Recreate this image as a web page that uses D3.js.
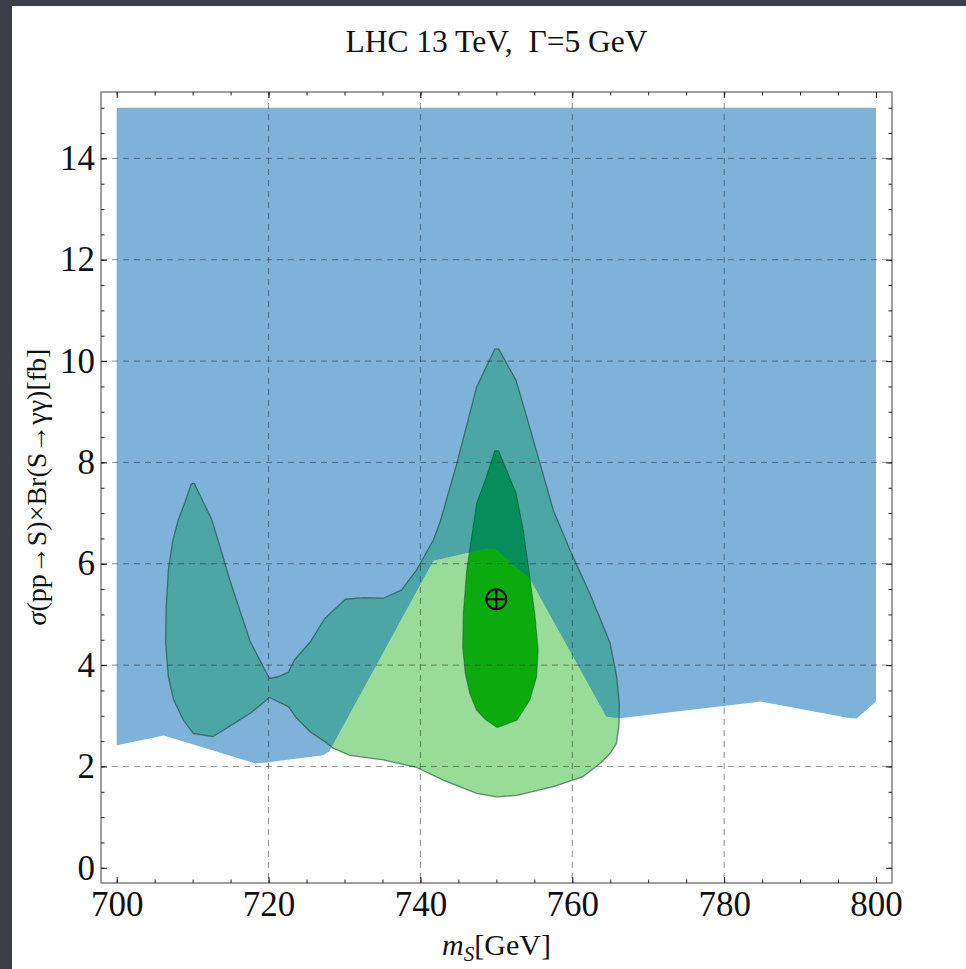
<!DOCTYPE html>
<html>
<head>
<meta charset="utf-8">
<script src="https://cdn.jsdelivr.net/npm/d3@7"></script>
<style>
  html, body { margin: 0; padding: 0; background: #3c3f48; }
  svg { display: block; }
  text { font-family: "Liberation Serif", "Times New Roman", serif; fill: #111; }
</style>
</head>
<body>
<svg id="chart" width="966" height="969"></svg>
<script>
// ---- data -------------------------------------------------------------
const titleText = "LHC 13 TeV,  \u0393=5 GeV";
const xMajorTicks = [700, 720, 740, 760, 780, 800];
const yMajorTicks = [0, 2, 4, 6, 8, 10, 12, 14];
const xGridLines = [720, 740, 760, 780];
const yGridLines = [2, 4, 6, 8, 10, 12, 14];
const bestFitPoint = [750.0, 5.3];

// excluded region (m_S, sigma x Br)
const excludedRegion = [
  [700, 15], [800, 15], [800, 3.28], [797.5, 2.95], [796.6, 2.95], [784.9, 3.28],
  [766.3, 2.95], [764.5, 2.98], [754.4, 5.71], [749.8, 6.30], [748.7, 6.30],
  [741.7, 6.06], [728.0, 2.30], [727.2, 2.22], [719.7, 2.08], [718.3, 2.06],
  [706.2, 2.61], [700, 2.42]
];

// outer (95%) contour of the fit
const outerContour = [
  [710.2, 7.59], [712.5, 6.88], [713.6, 6.34], [714.9, 5.68], [716.2, 5.09],
  [717.6, 4.46], [719.1, 4.03], [719.75, 3.84], [720.1, 3.74], [721.3, 3.77],
  [722.6, 3.86], [723.4, 4.10], [725.5, 4.46], [727.4, 4.92], [730.1, 5.30],
  [732.5, 5.33], [735.1, 5.32], [737.5, 5.48], [739.5, 5.88], [741.7, 6.47],
  [742.6, 6.83], [744.8, 7.98], [747.4, 9.49], [749.8, 10.24], [750.3, 10.24],
  [752.6, 9.62], [754.0, 8.90], [755.75, 7.98], [757.5, 7.06], [759.7, 6.27],
  [762.3, 5.42], [765.0, 4.43], [765.85, 3.77], [766.2, 3.24], [766.15, 2.80],
  [765.8, 2.45], [765.0, 2.26], [763.65, 2.06], [761.45, 1.80], [757.5, 1.60],
  [752.7, 1.43], [750.0, 1.40], [747.4, 1.47], [743.0, 1.73], [739.5, 1.98],
  [735.1, 2.13], [730.7, 2.22], [728.5, 2.36], [727.7, 2.46], [725.5, 2.68],
  [723.7, 2.95], [722.6, 3.18], [720.1, 3.36], [719.5, 3.28], [717.6, 3.05],
  [715.8, 2.88], [712.7, 2.59], [710.1, 2.65], [708.8, 2.91], [707.5, 3.31],
  [706.8, 3.77], [706.45, 4.43], [706.5, 5.09], [706.8, 5.88], [707.4, 6.47],
  [708.1, 6.86], [709.0, 7.22], [709.8, 7.57]
];

// inner (68%) contour of the fit
const innerContour = [
  [749.8, 8.23], [750.3, 8.23], [752.6, 7.39], [753.55, 6.66], [754.4, 5.74],
  [755.06, 5.02], [755.5, 4.30], [755.3, 3.77], [754.4, 3.31], [752.7, 2.91],
  [750.1, 2.77], [748.6, 2.92], [747.4, 3.11], [746.5, 3.44], [745.9, 3.84],
  [745.57, 4.36], [745.65, 5.02], [746.1, 5.88], [746.75, 6.53], [747.4, 7.19],
  [748.7, 7.72]
];

// ---- layout -----------------------------------------------------------
const frame = { left: 101, right: 892, top: 92, bottom: 883 };
const x = d3.scaleLinear().domain([697.93, 802.11]).range([frame.left, frame.right]);
const y = d3.scaleLinear().domain([-0.30, 15.31]).range([frame.bottom, frame.top]);

const svg = d3.select("#chart");
svg.append("rect").attr("x", 0).attr("y", 0).attr("width", 966).attr("height", 969).attr("fill", "#3c3f48");
svg.append("rect").attr("x", 12).attr("y", 6).attr("width", 954).attr("height", 963).attr("fill", "#ffffff");

const area = d3.line().x(d => x(d[0])).y(d => y(d[1]));
const closed = pts => area(pts) + "Z";

const defs = svg.append("defs");
defs.append("clipPath").attr("id", "excl-clip")
  .append("path").attr("d", closed(excludedRegion));

const plot = svg.append("g");

// excluded region
plot.append("path").attr("d", closed(excludedRegion)).attr("fill", "#7fb2d8");

// outer contour: light green where allowed, teal inside the excluded region
plot.append("path").attr("d", closed(outerContour)).attr("fill", "#98dc98");
plot.append("path").attr("d", closed(outerContour)).attr("fill", "#4ba6a5")
  .attr("clip-path", "url(#excl-clip)");

// inner contour
plot.append("path").attr("d", closed(innerContour)).attr("fill", "#0cab0d");
plot.append("path").attr("d", closed(innerContour)).attr("fill", "#078d5b")
  .attr("clip-path", "url(#excl-clip)");

// contour outlines
plot.append("path").attr("d", closed(outerContour)).attr("fill", "none")
  .attr("stroke", "rgba(25,65,60,0.6)").attr("stroke-width", 1.3).attr("stroke-linejoin", "round");
plot.append("path").attr("d", closed(innerContour)).attr("fill", "none")
  .attr("stroke", "rgba(0,70,35,0.45)").attr("stroke-width", 1.1).attr("stroke-linejoin", "round");

// dashed grid
const grid = svg.append("g").attr("stroke", "rgba(50,50,50,0.55)").attr("stroke-width", 1)
  .attr("stroke-dasharray", "6,5");
grid.selectAll("line.gx").data(xGridLines).join("line")
  .attr("x1", d => x(d)).attr("x2", d => x(d)).attr("y1", frame.top).attr("y2", frame.bottom);
grid.selectAll("line.gy").data(yGridLines).join("line")
  .attr("y1", d => y(d)).attr("y2", d => y(d)).attr("x1", frame.left).attr("x2", frame.right);

// best-fit marker
const bf = svg.append("g").attr("transform", `translate(${x(bestFitPoint[0])},${y(bestFitPoint[1])})`)
  .attr("stroke", "#000").attr("stroke-width", 2).attr("fill", "none");
bf.append("circle").attr("r", 10);
bf.append("line").attr("x1", -10).attr("x2", 10);
bf.append("line").attr("y1", -10).attr("y2", 10);

// frame
svg.append("rect").attr("x", frame.left).attr("y", frame.top)
  .attr("width", frame.right - frame.left).attr("height", frame.bottom - frame.top)
  .attr("fill", "none").attr("stroke", "#808080").attr("stroke-width", 1.5);

// axes: inward ticks on all four sides
const xMinor = d3.range(700, 801, 5);
const yMinor = d3.range(0, 15.01, 0.5);
function styleAxis(g) {
  g.select(".domain").remove();
  g.selectAll(".tick line").attr("stroke", "#222").attr("stroke-width", 1);
  g.selectAll(".tick text").attr("font-size", 35).attr("font-family", "Liberation Serif").attr("fill", "#111");
}
svg.append("g").attr("transform", `translate(0,${frame.bottom})`)
  .call(d3.axisBottom(x).tickValues(xMinor).tickSize(-3.5).tickFormat("")).call(styleAxis);
svg.append("g").attr("transform", `translate(0,${frame.bottom})`)
  .call(d3.axisBottom(x).tickValues(xMajorTicks).tickSize(-6).tickPadding(8).tickFormat(d3.format("d"))).call(styleAxis);
svg.append("g").attr("transform", `translate(0,${frame.top})`)
  .call(d3.axisTop(x).tickValues(xMinor).tickSize(-3.5).tickFormat("")).call(styleAxis);
svg.append("g").attr("transform", `translate(0,${frame.top})`)
  .call(d3.axisTop(x).tickValues(xMajorTicks).tickSize(-6).tickFormat("")).call(styleAxis);

svg.append("g").attr("transform", `translate(${frame.left},0)`)
  .call(d3.axisLeft(y).tickValues(yMinor).tickSize(-3.5).tickFormat("")).call(styleAxis);
svg.append("g").attr("transform", `translate(${frame.left},0)`)
  .call(d3.axisLeft(y).tickValues(yMajorTicks).tickSize(-6).tickPadding(6).tickFormat(d3.format("d"))).call(styleAxis);
svg.append("g").attr("transform", `translate(${frame.right},0)`)
  .call(d3.axisRight(y).tickValues(yMinor).tickSize(-3.5).tickFormat("")).call(styleAxis);
svg.append("g").attr("transform", `translate(${frame.right},0)`)
  .call(d3.axisRight(y).tickValues(yMajorTicks).tickSize(-6).tickFormat("")).call(styleAxis);

// title
svg.append("text").attr("x", (frame.left + frame.right) / 2).attr("y", 52)
  .attr("text-anchor", "middle").attr("font-size", 31.5).style("white-space", "pre")
  .text(titleText);

// x-axis title
const xt = svg.append("text").attr("x", (frame.left + frame.right) / 2).attr("y", 955)
  .attr("text-anchor", "middle").attr("font-size", 30);
xt.append("tspan").attr("font-style", "italic").text("m");
xt.append("tspan").attr("font-style", "italic").attr("font-size", 21).attr("dy", 6).text("S");
xt.append("tspan").attr("dy", -6).text("[GeV]");

// y-axis title
const yt = svg.append("text").attr("transform", "translate(46,487) rotate(-90)")
  .attr("text-anchor", "middle").attr("font-size", 28);
yt.append("tspan").attr("font-style", "italic").text("\u03C3");
yt.append("tspan").text("(pp\u2192S)\u00D7Br(S\u2192\u03B3\u03B3)[fb]");
</script>
</body>
</html>
